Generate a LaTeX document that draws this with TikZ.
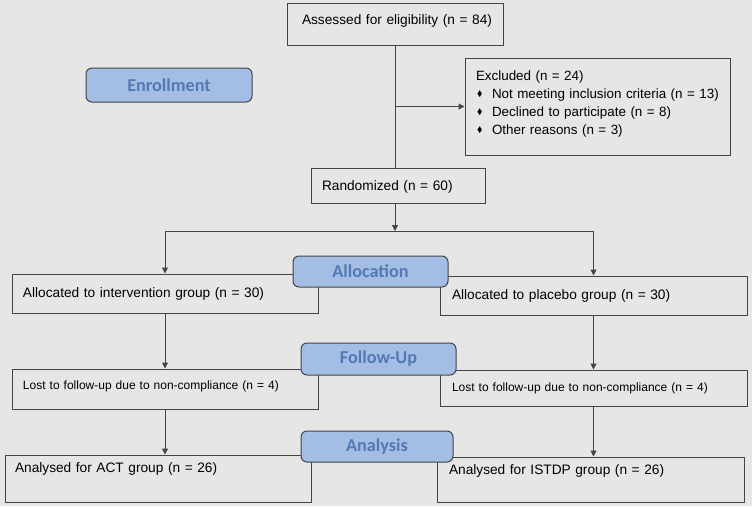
\documentclass[tikz,border=0pt]{standalone}
\usepackage{amssymb}
\usepackage{fontspec}
\setmainfont{Liberation Sans}
\newfontfamily\stagefont{Carlito}
\usetikzlibrary{arrows.meta}
\definecolor{FCBack}{HTML}{E6E6E6}
\definecolor{FCLine}{HTML}{444444}
\definecolor{FCStageFill}{HTML}{A4BDE5}
\definecolor{FCStageText}{HTML}{5479B2}
\newcommand{\exbullet}{\hspace*{5pt}\makebox[13pt][l]{\raisebox{2pt}{\scalebox{0.6}{$\blacklozenge$}}}}
\tikzset{
  >={Triangle[length=6pt,width=6pt]},
  fcbox/.style={draw=FCLine, line width=1pt, align=left, inner xsep=11pt,
    inner ysep=0pt, text height=10pt, font=\fontsize{13.7}{18}\selectfont},
  fcsmall/.style={fcbox, text height=9pt, font=\fontsize{12}{15}\selectfont},
  fcstage/.style={rounded corners=6pt, draw=FCLine, line width=1pt,
    fill=FCStageFill, text=FCStageText, inner sep=0pt,
    font=\stagefont\bfseries\fontsize{18.2}{20}\selectfont},
  fcarrow/.style={->, line width=1pt, draw=FCLine},
  fcline/.style={line width=1pt, draw=FCLine}
}
\begin{document}
\begin{tikzpicture}[x=1pt, y=-1pt]
  \fill[FCBack] (0,0) rectangle (752,506);
  \useasboundingbox (0,0) rectangle (752,506);

  % enrollment
  \node[fcbox, text width=194pt, minimum height=42pt, text depth=9pt]
    (assess) at (395,24) {\hspace*{4pt}Assessed for eligibility (n = 84)};
  \node[fcbox, text width=251pt, inner xsep=7pt, minimum height=97pt, text height=5pt,
    font=\fontsize{13.4}{18}\selectfont]
    (excl) at (597.5,106.5)
    {\hspace*{4pt}Excluded (n = 24)\\
     \exbullet\hspace*{2pt}Not meeting inclusion criteria (n = 13)\\
     \exbullet\hspace*{2pt}Declined to participate (n = 8)\\
     \exbullet\hspace*{2pt}Other reasons (n = 3)};
  \node[fcbox, text width=152pt, minimum height=35pt, text depth=0pt]
    (rand) at (398,185.5) {Randomized (n = 60)};

  % allocation
  \node[fcbox, text width=284pt, minimum height=39pt, text depth=2pt]
    (allocL) at (165,293.5) {Allocated to intervention group (n = 30)};
  \node[fcbox, text width=283pt, inner xsep=12pt, minimum height=39pt, text depth=2pt]
    (allocR) at (593.5,295.5) {Allocated to placebo group (n = 30)};

  % follow-up
  \node[fcsmall, text width=284pt, minimum height=40pt, text depth=9pt]
    (lostL) at (165,389) {Lost to follow-up due to non-compliance (n = 4)};
  \node[fcsmall, text width=283pt, inner xsep=12pt, minimum height=36pt, text depth=3pt]
    (lostR) at (593.5,388) {Lost to follow-up due to non-compliance (n = 4)};

  % analysis
  \node[fcbox, text width=286pt, inner xsep=10pt, minimum height=47pt, text depth=22pt]
    (anaL) at (158,478.5) {Analysed for ACT group (n = 26)};
  \node[fcbox, text width=283pt, inner xsep=12pt, minimum height=45pt, text depth=20pt]
    (anaR) at (590.5,479.5) {Analysed for ISTDP group (n = 26)};

  % stage labels
  \node[fcstage, minimum width=166pt, minimum height=34pt] (enroll) at (169,85) {Enrollment};
  \node[fcstage, minimum width=155pt, minimum height=31pt] (alloc) at (370.5,271.5) {Allocation};
  \node[fcstage, minimum width=155pt, minimum height=32pt] (follow) at (378.5,359) {Follow-Up};
  \node[fcstage, minimum width=152pt, minimum height=31pt] (analysis) at (377,446.5) {Analysis};

  \coordinate (split) at (395,231);
  \draw[fcline] (assess.south) -- (assess.south |- rand.north);
  \draw[fcarrow] (assess.south |- excl.west) -- (excl.west);
  \draw[fcarrow] (rand.south -| assess.south) -- (split);
  \draw[fcarrow] (split) -| (allocL);
  \draw[fcarrow] (split) -| (allocR);
  \draw[fcarrow] (allocL) -- (lostL);
  \draw[fcarrow] (allocR) -- (lostR);
  \draw[fcarrow] (lostL.south) -- (lostL.south |- anaL.north);
  \draw[fcarrow] (lostR.south) -- (lostR.south |- anaR.north);
\end{tikzpicture}
\end{document}
